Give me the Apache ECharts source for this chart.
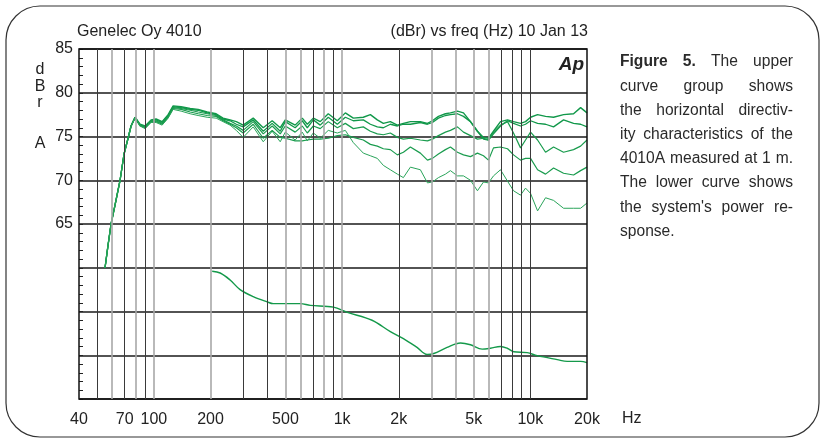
<!DOCTYPE html>
<html>
<head>
<meta charset="utf-8">
<script src="https://cdn.jsdelivr.net/npm/echarts@6/dist/echarts.min.js"></script>
<style>
html,body{margin:0;padding:0;background:#fff;}
#chart{width:821px;height:443px;}
</style>
</head>
<body>
<div id="chart"></div>
<script>
// ---------- data ----------
const freqUpper = [55,57,59.2,62.2,66.1,69.4,72.9,75.6,79.4,84.4,89.8,96.6,102.7,110.6,119,126.5,139.5,155.8,171.8,191.8,214.2,
  233,254,274,298,337,381,425,469,499,563,614,653,703,765,844,943,1040,1147,1296,1413,1538,1656,1804,1966,2116,2305,2605,2840,3018,
  3248,3539,3762,4099,4413,4807,5236,5637,5993,6371,6941,7563,8140,8869,9429,10025,10925,12045,13284,15015,16970,18495,20000];

const dirA = [60.0,62.5,65.0,67.2,70.0,73.0,74.8,76.2,77.2,76.4,76.2,76.9,77.0,76.7,77.5,78.5,78.4,78.2,78.1,77.8,77.6,
  77.1,76.9,76.7,76.3,77.1,76.0,76.8,76.0,76.9,76.3,77.1,76.4,77.1,76.7,77.6,76.8,77.7,77.1,77.2,77.5,76.9,76.5,76.7,76.3,76.5,76.7,76.7,76.5,76.8,
  77.3,77.6,77.7,77.9,77.7,76.7,75.6,74.9,74.8,75.6,76.7,76.9,76.7,76.5,76.7,77.2,77.5,77.3,77.2,77.5,77.6,78.3,77.7];
const dirB = [60.0,62.5,65.0,67.2,70.0,73.0,74.8,76.2,77.2,76.3,76.1,76.8,76.9,76.6,77.4,78.4,78.3,78.1,78.0,77.7,77.5,
  77.0,76.8,76.4,76.1,76.9,75.6,76.5,75.6,76.7,76.0,76.8,76.0,76.9,76.3,77.2,76.4,77.2,76.8,76.9,76.4,76.1,76.0,76.4,76.2,76.4,76.4,76.6,76.4,76.6,
  77.1,77.4,77.5,77.6,77.3,76.7,75.6,74.7,74.6,75.3,76.2,76.8,76.5,76.2,76.4,76.8,76.5,76.4,76.1,76.9,76.5,76.4,76.1];
const dirC = [60.0,62.5,65.0,67.2,70.0,73.0,74.8,76.2,77.2,76.3,76.1,76.8,76.8,76.5,77.3,78.3,78.2,78.0,77.8,77.6,77.4,
  76.9,76.5,76.2,75.7,76.7,75.3,76.2,75.3,76.2,75.5,76.2,75.4,76.2,75.9,76.7,76.0,76.5,75.9,76.1,75.6,75.3,75.2,75.4,74.9,74.7,74.8,74.6,74.5,74.7,
  75.1,75.5,75.7,76.1,75.5,75.1,74.7,74.8,74.6,75.5,76.3,76.7,75.4,73.7,74.6,75.5,74.6,73.2,73.8,73.2,73.5,73.9,74.6];
const dirD = [60.0,62.5,65.0,67.2,70.0,73.0,74.8,76.2,77.1,76.2,76.0,76.7,76.7,76.4,77.2,78.2,78.1,77.8,77.6,77.4,77.3,
  76.8,76.4,76.0,75.4,76.4,74.8,75.7,74.9,74.8,74.5,74.5,74.6,74.7,74.7,74.8,75.1,75.2,74.9,74.6,74.1,73.9,73.6,73.5,72.9,73.2,73.8,73.1,72.3,72.5,
  73.0,73.5,73.8,73.2,72.9,72.7,73.1,72.8,72.3,73.7,73.8,73.6,72.9,72.3,72.5,72.5,71.2,70.7,71.4,70.8,70.6,71.1,71.5];
const dirE = [60.0,62.5,65.0,67.2,70.0,73.0,74.8,76.1,77.1,76.2,75.9,76.6,76.6,76.3,77.1,78.1,77.9,77.6,77.4,77.2,77.1,
  76.7,76.3,75.7,74.9,76.1,74.4,75.6,74.4,75.5,74.6,75.5,74.5,75.4,74.8,75.7,75.4,75.7,74.3,73.1,72.8,72.5,71.7,71.2,70.7,70.3,71.5,71.2,69.7,69.8,
  70.3,70.7,71.1,70.5,70.5,70.0,68.8,69.8,69.7,70.5,71.2,69.9,68.8,68.3,69.1,68.5,66.5,68.0,67.7,66.8,66.8,66.8,67.4];

const freqPower = [204,225,254,287,337,400,430,600,677,898,1066,1442,1804,2116,2500,2829,3068,3612,4256,4808,5548,6140,6940,7536,8168,9620,10880,13900,15700,18500,20000];
const power = [59.6,59.4,58.6,57.5,56.7,56.1,55.9,55.9,55.7,55.5,54.9,54.0,52.7,51.9,50.9,50.1,50.2,50.9,51.4,51.2,50.7,50.8,51.0,50.8,50.4,50.3,49.95,49.5,49.3,49.3,49.15];

const xTickLabels = [40,70,100,200,500,1000,2000,5000,10000,20000];
const yTickLabels = [65,70,75,80,85];
const gridFreqs = [50,60,70,80,90,100,200,300,400,500,600,700,800,900,1000,2000,3000,4000,5000,6000,7000,8000,9000,10000];
const gridTone  = ['d','g','d','g','d','g','g','d','d','g','g','d','g','d','g','d','g','g','g','g','d','d','d','d'];

const captionLines = [
  'Figure 5. The upper',
  'curve group shows',
  'the horizontal directiv-',
  'ity characteristics of the',
  '4010A measured at 1 m.',
  'The lower curve shows',
  'the system\'s power re-',
  'sponse.'
];
const captionBoldWords = 2;

// ---------- chart ----------
const FONT = '"Liberation Sans", Arial, Helvetica, sans-serif';
const GREEN = '#14994a';
const chart = echarts.init(document.getElementById('chart'), null, {renderer: 'canvas'});

const pair = (xs, ys) => xs.map((x, i) => [x, ys[i]]);
const upper = [dirA, dirB, dirC, dirD, dirE];
const upperWidth = [1.4, 1.3, 1.2, 1.2, 1.0];
const upperColor = ['#11984a', '#11984a', '#1a9c4e', '#1a9c4e', '#2aa45a'];

// caption layout (justified)
const mctx = document.createElement('canvas').getContext('2d');
function tw(t, f) { mctx.font = f; return mctx.measureText(t).width; }
const capLeft = 620, capRight = 793, capTop = 62, capLead = 24.2;
const fNorm = '15.6px ' + FONT, fBold = 'bold 15.6px ' + FONT;
const graphics = [];
captionLines.forEach((line, li) => {
  const words = line.split(' ');
  const fonts = words.map((w, wi) => (li === 0 && wi < captionBoldWords) ? fBold : fNorm);
  const widths = words.map((w, wi) => tw(w, fonts[wi]));
  const total = widths.reduce((a, b) => a + b, 0);
  const last = li === captionLines.length - 1;
  const gap = last ? tw(' ', fNorm) : (capRight - capLeft - total) / (words.length - 1);
  let x = capLeft;
  words.forEach((w, wi) => {
    graphics.push({type: 'text', x: x, y: capTop + li * capLead, silent: true,
      style: {text: w, font: fonts[wi], fill: '#2a2a2a', align: 'left', verticalAlign: 'middle', textAlign: 'left', textVerticalAlign: 'middle'}});
    x += widths[wi] + gap;
  });
});

function label(text, x, y, font, align) {
  return {type: 'text', x: x, y: y, silent: true,
    style: {text: text, font: font, fill: '#222', align: align || 'left', verticalAlign: 'middle', textAlign: align || 'left', textVerticalAlign: 'middle'}};
}
graphics.push(
  {type: 'rect', shape: {x: 6, y: 6, width: 813, height: 431, r: 34}, silent: true, z: -10,
    style: {fill: 'none', stroke: '#333', lineWidth: 1.2}},
  label('Genelec Oy 4010', 77, 32, '16px ' + FONT, 'left'),
  label('(dBr) vs freq (Hz) 10 Jan 13', 588, 32, '16px ' + FONT, 'right'),
  label('d', 40, 70, '16px ' + FONT, 'center'),
  label('B', 40, 87, '16px ' + FONT, 'center'),
  label('r', 40, 103, '16px ' + FONT, 'center'),
  label('A', 40, 144, '16px ' + FONT, 'center'),
  label('Hz', 622, 419, '16px ' + FONT, 'left'),
  label('Ap', 584, 65, 'italic bold 19px ' + FONT, 'right')
);

const series = upper.map((d, i) => ({
  type: 'line', name: 'dir' + i, data: pair(freqUpper, d), showSymbol: false, symbol: 'none',
  lineStyle: {color: upperColor[i], width: upperWidth[i]}, z: 3, silent: true
}));
series.push({
  type: 'line', name: 'power', data: pair(freqPower, power), showSymbol: false, symbol: 'none',
  smooth: 0.35, lineStyle: {color: GREEN, width: 1.4}, z: 3, silent: true
});
series.push({
  type: 'line', name: 'vgrid', data: [], z: 1, silent: true,
  markLine: {
    silent: true, symbol: ['none', 'none'], label: {show: false}, animation: false,
    data: gridFreqs.map((f, i) => ({
      xAxis: f,
      lineStyle: gridTone[i] === 'd' ? {color: '#3a3a3a', width: 1, type: 'solid'} : {color: '#a8a8a8', width: 1.6, type: 'solid'}
    }))
  }
});

chart.setOption({
  animation: false,
  backgroundColor: '#fff',
  grid: {left: 79, top: 49, right: 234, bottom: 44, show: true, borderColor: '#111', borderWidth: 1.5, backgroundColor: 'transparent', z: 5},
  xAxis: {
    type: 'log', logBase: 10, min: 40, max: 20000,
    axisLine: {show: false}, axisTick: {show: false}, splitLine: {show: false}, minorTick: {show: false},
    axisLabel: {
      customValues: xTickLabels, fontSize: 16, fontFamily: FONT, color: '#222', margin: 13,
      formatter: v => v >= 1000 ? (v / 1000) + 'k' : String(v), showMinLabel: true, showMaxLabel: true
    }
  },
  yAxis: {
    type: 'value', min: 45, max: 85, interval: 5,
    axisLine: {show: false},
    axisTick: {show: true, inside: true, length: 4, lineStyle: {color: '#222'}},
    minorTick: {show: true, splitNumber: 5, length: 4, lineStyle: {color: '#222', width: 1}},
    splitLine: {show: true, lineStyle: {color: '#1a1a1a', width: 1.5}},
    axisLabel: {fontSize: 16, fontFamily: FONT, color: '#222', margin: 6,
      formatter: v => yTickLabels.indexOf(v) >= 0 ? String(v) : ''}
  },
  series: series,
  graphic: {elements: graphics}
});
</script>
</body>
</html>
